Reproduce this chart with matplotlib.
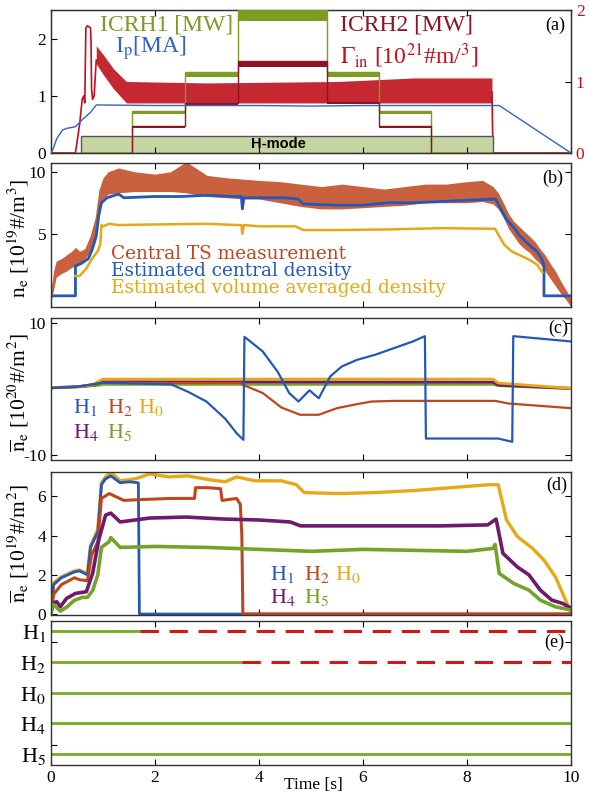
import matplotlib.pyplot as plt

plt.rcParams['font.family'] = ['Liberation Serif', 'DejaVu Serif']
plt.rcParams['mathtext.fontset'] = 'stix'
plt.rcParams['axes.unicode_minus'] = False

# ---------------- panel (a) ----------------
icrh_edges = [0, 1.56, 2.58, 3.59, 5.3, 6.3, 7.3, 10]
icrh1_lo = [0, 0.68, 1.33, 2.30, 1.33, 0.68, 0]
icrh1_hi = [0, 0.73, 1.41, 2.50, 1.41, 0.73, 0]
icrh2_lo = [0, 0.43, 0.82, 1.50, 0.85, 0.43, 0]
icrh2_hi = [0, 0.48, 0.88, 1.60, 0.90, 0.48, 0]

ip_t = [0, 0.04, 0.11, 0.22, 0.3, 0.47, 0.61, 0.76, 0.87, 0.95, 2.0, 4.0, 5.0, 6.0, 8.62, 10]
ip_v = [0, 0.07, 0.25, 0.40, 0.43, 0.46, 0.59, 0.71, 0.84, 0.84, 0.83, 0.83, 0.82, 0.83, 0.83, 0]

gam_t = [0, 0.47, 0.55, 0.6, 0.63, 0.65, 0.67, 0.7, 0.76, 0.77, 0.78, 0.8, 0.83, 0.87]
gam_v = [0, 0, 0.4, 0.75, 0.8, 0.7, 1.75, 1.78, 1.75, 1.55, 0.9, 0.75, 0.8, 1.3]
gamb_t = [0.87, 1.0, 1.2, 1.45, 3.0, 5.5, 7.0, 8.48]
gamb_lo = [1.25, 1.1, 0.9, 0.7, 0.7, 0.7, 0.7, 0.7]
gamb_hi = [1.5, 1.38, 1.18, 1.0, 0.98, 1.0, 1.05, 1.05]
gamend_t = [8.48, 8.5, 10]
gamend_v = [0.85, 0, 0]

hmode = (0.58, 8.5, 0.3)

# ---------------- panel (b) ----------------
ts_t = [0, 0.05, 0.1, 0.2, 0.3, 0.4, 0.47, 0.55, 0.65, 0.75, 0.85, 0.92, 1.0, 1.1, 1.3, 1.6, 2.0, 2.3,
        2.6, 3.0, 3.4, 3.7, 4.0, 4.4, 4.8, 5.2, 5.6, 6.0, 6.4, 6.8, 7.2, 7.6, 8.0, 8.3, 8.5, 8.6, 8.7,
        8.8, 8.9, 9.0, 9.1, 9.2, 9.3, 9.4, 9.5, 9.6, 9.7, 9.8, 9.9, 10.0]
ts_lo = [-0.5, 0.5, 1.5, 1.8, 2.0, 2.3, 2.4, 2.6, 3.0, 3.5, 4.5, 6.5, 7.8, 8.2, 8.3, 8.4, 8.4, 8.4,
         8.3, 8.0, 7.9, 7.8, 7.8, 7.5, 7.2, 7.0, 7.0, 7.1, 7.2, 7.3, 7.5, 7.5, 7.5, 7.6, 7.4, 7.0, 6.3,
         5.4, 4.8, 4.2, 3.8, 3.5, 3.0, 2.6, 2.0, 1.4, 0.8, 0.2, -0.3, -0.9]
ts_hi = [0.5, 2.0, 2.8, 3.0, 3.3, 3.6, 3.9, 3.6, 3.8, 4.8, 6.3, 8.5, 9.5, 10.0, 10.3, 10.0, 9.8, 10.0,
         10.8, 9.7, 9.5, 9.4, 9.3, 9.2, 9.0, 8.8, 9.0, 8.8, 8.6, 8.8, 9.0, 9.0, 9.2, 9.3, 8.8, 8.3, 7.5,
         6.6, 6.0, 5.6, 5.2, 4.8, 4.4, 3.8, 3.3, 2.6, 2.0, 1.2, 0.5, -0.2]

cd_t = [0, 0.47, 0.47, 0.58, 0.72, 0.79, 0.87, 0.92, 0.97, 1.08, 1.3, 1.4, 2.0, 2.5, 3.0, 3.5, 3.66,
        3.68, 3.71, 4.0, 4.5, 4.75, 4.85, 5.5, 6.0, 6.5, 7.0, 7.5, 8.0, 8.55, 8.65, 8.75, 8.9, 9.0,
        9.12, 9.25, 9.34, 9.42, 9.48, 9.48, 10]
cd_v = [0, 0, 2.4, 2.6, 3.0, 3.7, 4.8, 6.5, 7.5, 7.9, 8.2, 7.9, 8.0, 8.0, 8.1, 8.0, 8.0,
        7.0, 7.9, 7.9, 7.9, 7.8, 7.4, 7.3, 7.3, 7.5, 7.5, 7.6, 7.7, 7.8, 7.0, 6.2, 5.5, 4.9,
        4.4, 3.9, 3.6, 3.1, 2.5, 0, 0]

va_t = [0.47, 0.55, 0.68, 0.79, 0.9, 0.95, 0.97, 1.0, 1.12, 1.3, 2.0, 3.0, 3.6, 3.66, 3.68, 3.71,
        4.0, 4.7, 4.85, 5.5, 6.5, 7.5, 8.54, 8.62, 8.72, 8.85, 9.0, 9.2, 9.35, 9.45]
va_v = [1.6, 1.6, 2.2, 3.0, 3.6, 4.2, 5.7, 5.6, 5.8, 5.7, 5.75, 5.8, 5.7, 5.7, 5.0, 5.7,
        5.6, 5.6, 5.3, 5.3, 5.35, 5.45, 5.4, 4.8, 4.1, 3.6, 3.3, 2.9, 2.5, 1.9]

# ---------------- panel (c) ----------------
c_t = [0, 0.5, 0.8, 0.95, 1.0, 8.5, 8.6, 10]
h0_c = [0.2, 0.35, 0.6, 1.3, 1.5, 1.5, 0.9, 0.1]
h4_c = [0.2, 0.35, 0.55, 1.0, 1.1, 1.05, 0.6, 0.1]
h5_c = [0.15, 0.3, 0.5, 0.6, 0.7, 0.7, 0.5, 0.05]

h2c_t = [0, 0.5, 0.95, 1.0, 3.65, 3.7, 4.07, 4.43, 4.79, 5.15, 5.5, 5.88, 6.16, 6.6, 8.54, 8.8, 10]
h2c_v = [0.15, 0.35, 0.9, 0.95, 0.9, 0.6, -0.6, -2.8, -3.9, -3.9, -2.9, -2.3, -1.9, -1.8, -1.8, -2.2, -2.9]

h1c_t = [0, 0.5, 0.95, 1.0, 2.31, 2.63, 2.99, 3.35, 3.57, 3.7, 3.72, 4.07, 4.36, 4.58, 4.76, 4.97,
         5.15, 5.37, 5.59, 5.88, 6.24, 6.6, 6.96, 7.19, 7.21, 8.6, 8.87, 8.89, 10]
h1c_v = [0.15, 0.35, 0.9, 0.95, 0.7, -0.4, -1.9, -4.5, -6.7, -7.7, 7.9, 5.7, 2.6, -0.6, -1.9, -0.2,
         -1.4, 1.9, 3.4, 4.4, 5.2, 6.2, 7.2, 8.0, -7.5, -7.5, -8.0, 8.0, 7.2]

# ---------------- panel (d) ----------------
h0d_t = [0, 0.05, 0.2, 0.45, 0.55, 0.7, 0.76, 0.9, 0.97, 1.05, 1.15, 1.33, 1.62, 1.9, 2.27, 2.63, 3.06,
         3.35, 3.57, 3.93, 4.43, 4.72, 4.87, 5.52, 6.24, 6.96, 7.69, 8.41, 8.6, 8.76, 8.97, 9.26,
         9.48, 9.7, 9.84, 9.95, 10]
h0d_v = [0, 1.6, 1.9, 2.2, 2.25, 2.05, 3.5, 4.3, 6.7, 7.0, 7.25, 6.8, 6.9, 7.15, 7.0, 7.05, 6.85,
         6.75, 7.0, 6.8, 6.8, 6.6, 6.2, 6.15, 6.2, 6.3, 6.45, 6.6, 6.6, 4.8, 3.95, 3.35,
         2.75, 1.9, 1.05, 0.37, 0.1]

h1d_t = [0, 0.05, 0.2, 0.45, 0.55, 0.7, 0.76, 0.9, 0.97, 1.05, 1.15, 1.33, 1.5, 1.68, 1.7, 10]
h1d_v = [0, 1.5, 1.85, 2.15, 2.2, 2.0, 3.4, 4.2, 6.6, 6.9, 7.05, 6.7, 6.75, 6.7, 0, 0]

h2d_t = [0, 0.05, 0.2, 0.45, 0.55, 0.7, 0.78, 0.9, 0.97, 1.12, 1.4, 1.8, 2.3, 2.76, 2.78, 3.0, 3.26,
         3.29, 3.57, 3.64, 3.67, 3.69, 10]
h2d_v = [0, 1.0, 1.5, 1.85, 1.75, 1.7, 3.0, 3.7, 5.9, 6.15, 5.8, 5.85, 5.9, 5.9, 6.45, 6.45, 6.4,
         5.8, 5.9, 5.6, 4.0, 0, 0]

h4d_t = [0, 0.03, 0.11, 0.18, 0.3, 0.47, 0.68, 0.8, 0.92, 1.05, 1.15, 1.33, 1.9, 2.6, 3.3, 4.0, 4.6,
         4.8, 5.5, 6.5, 7.5, 8.4, 8.56, 8.69, 8.97, 9.19, 9.41, 9.63, 9.84, 10]
h4d_v = [0, 0.55, 0.63, 0.37, 0.8, 1.05, 1.14, 2.07, 3.8, 5.05, 5.15, 4.7, 4.9, 4.95, 4.85, 4.8, 4.7,
         4.5, 4.5, 4.5, 4.5, 4.55, 4.85, 3.1, 2.4, 2.0, 1.22, 0.71, 0.54, 0.3]

h5d_t = [0, 0.03, 0.1, 0.18, 0.3, 0.45, 0.6, 0.7, 0.8, 0.9, 0.97, 1.12, 1.15, 1.33, 2.0, 3.0, 4.0,
         5.0, 6.0, 7.0, 8.0, 8.5, 8.54, 8.62, 8.9, 9.19, 9.41, 9.7, 10]
h5d_v = [0, 0.5, 0.35, 0.15, 0.35, 0.7, 0.85, 0.85, 1.2, 2.0, 3.4, 3.7, 3.9, 3.4, 3.45, 3.4, 3.3,
         3.2, 3.3, 3.25, 3.2, 3.35, 3.55, 2.07, 1.56, 1.22, 0.71, 0.37, 0.2]

# ---------------- panel (e) ----------------
rows = ['H$_1$', 'H$_2$', 'H$_0$', 'H$_4$', 'H$_5$']
row_pos = [5, 4, 3, 2, 1]
lost_at = [1.72, 3.68, None, None, None]

# colours
BLUE = '#2458b8'
RED = '#c0451c'
YEL = '#e6a817'
PUR = '#6e1a6e'
GRN = '#75a22a'

fig = plt.figure(figsize=(5.89, 7.93), dpi=100)
L, W = 51 / 589, 520 / 589
H = 793.0
def box(top, bot):
    return [L, 1 - bot / H, W, (bot - top) / H]

axa = fig.add_axes(box(10, 153))
axb = fig.add_axes(box(163, 307))
axc = fig.add_axes(box(318, 460))
axd = fig.add_axes(box(472, 615))
axe = fig.add_axes(box(621, 765))
axr = axa.twinx()

for ax in [axa, axb, axc, axd, axe]:
    ax.set_xlim(0, 10)
    ax.set_xticks([0, 2, 4, 6, 8, 10])
    ax.tick_params(direction='in', length=4, width=0.8, top=True, right=True, labelsize=12.5)
    for s in ax.spines.values():
        s.set_linewidth(1.0)
        s.set_color('#333333')
    if ax is not axe:
        ax.set_xticklabels([])

# (a)
axa.set_zorder(axr.get_zorder() + 1)
axa.patch.set_visible(False)
axa.set_ylim(0, 2.5)
axa.set_yticks([0, 1, 2])
axa.tick_params(right=False)
axr.set_ylim(0, 2)
axr.set_yticks([0, 1, 2])
axr.tick_params(direction='in', length=4, width=0.8, labelsize=12.5, labelcolor='#c0101c')

axa.fill_between([hmode[0], hmode[1]], 0, hmode[2], color='#c6d4a2', ec='#555555', lw=1, zorder=1)
axa.text(4.37, hmode[2] / 2, 'H-mode', family='Liberation Sans',
         weight='bold', fontsize=10.5, ha='center', va='center', zorder=2)
axa.stairs(icrh1_hi, icrh_edges, baseline=icrh1_lo, fill=True, color='#7c9c22', zorder=3)
axa.stairs(icrh1_hi, icrh_edges, color='#7c9c22', lw=1, zorder=3)
axa.stairs(icrh2_hi, icrh_edges, baseline=icrh2_lo, fill=True, color='#8b1526', zorder=3)
axa.stairs(icrh2_hi, icrh_edges, color='#8b1526', lw=1, zorder=3)
axa.plot(ip_t, ip_v, color='#3463c2', lw=1, zorder=4)

axr.plot(gam_t, gam_v, color='#c0101c', lw=1.2)
axr.fill_between(gamb_t, gamb_lo, gamb_hi, color='#c0101c', lw=0, alpha=0.9)
axr.plot(gamend_t, gamend_v, color='#c0101c', lw=1.2)

axa.text(0.94, 2.23, 'ICRH1 [MW]', color='#7c9c22', fontsize=17, va='center', zorder=5)
axa.text(1.23, 1.84, 'I$_\\mathrm{p}$[MA]', color='#3463c2', fontsize=17, va='center', zorder=5)
axa.text(5.55, 2.23, 'ICRH2 [MW]', color='#8b1526', fontsize=17, va='center', zorder=5)
axa.text(5.55, 1.7, '$\\Gamma_\\mathrm{in}$ [10$^{21}$#m/$^{3}$]', color='#c0101c', fontsize=17,
         va='center', zorder=5)
axa.text(0.97, 0.89, '(a)', transform=axa.transAxes, fontsize=13, ha='center', va='center')

# (b)
axb.set_ylim(-0.9, 10.7)
axb.set_yticks([5, 10])
axb.fill_between(ts_t, ts_lo, ts_hi, color=RED, lw=0, alpha=0.85)
axb.plot(cd_t, cd_v, color=BLUE, lw=2)
axb.plot(va_t, va_v, color=YEL, lw=1.8)
leg_font = dict(family='DejaVu Serif', fontsize=13.3, va='center')
axb.text(1.15, 3.34, 'Central TS measurement', color=RED, **leg_font)
axb.text(1.15, 2.0, 'Estimated central density', color=BLUE, **leg_font)
axb.text(1.15, 0.65, 'Estimated volume averaged density', color=YEL, **leg_font)
axb.text(0.965, 0.896, '(b)', transform=axb.transAxes, fontsize=13, ha='center', va='center')

# (c)
axc.set_ylim(-10.75, 10.75)
axc.set_yticks([-10, 10])
axc.plot(c_t, h5_c, color=GRN, lw=2)
axc.plot(c_t, h4_c, color=PUR, lw=2)
axc.plot(c_t, h0_c, color=YEL, lw=2)
axc.plot(h2c_t, h2c_v, color=RED, lw=1.6)
axc.plot(h1c_t, h1c_v, color=BLUE, lw=1.6)
for txt, x, y, c in [('H$_1$', 0.43, -3.6, BLUE), ('H$_2$', 1.08, -3.6, RED), ('H$_0$', 1.68, -3.6, YEL),
                     ('H$_4$', 0.43, -7.4, PUR), ('H$_5$', 1.08, -7.4, GRN)]:
    axc.text(x, y, txt, color=c, fontsize=16, va='baseline')
axc.text(0.975, 0.93, '(c)', transform=axc.transAxes, fontsize=13, ha='center', va='center')

# (d)
axd.set_ylim(-0.05, 7.25)
axd.set_yticks([0, 2, 4, 6])
axd.plot(h0d_t, h0d_v, color=YEL, lw=2.4)
axd.plot(h1d_t, h1d_v, color=BLUE, lw=2)
axd.plot(h2d_t, h2d_v, color=RED, lw=2.2)
axd.plot(h4d_t, h4d_v, color=PUR, lw=2.6)
axd.plot(h5d_t, h5d_v, color=GRN, lw=2.6)
for txt, x, y, c in [('H$_1$', 4.22, 1.73, BLUE), ('H$_2$', 4.87, 1.73, RED), ('H$_0$', 5.47, 1.73, YEL),
                     ('H$_4$', 4.22, 0.56, PUR), ('H$_5$', 4.87, 0.56, GRN)]:
    axd.text(x, y, txt, color=c, fontsize=16, va='baseline')
axd.text(0.972, 0.91, '(d)', transform=axd.transAxes, fontsize=13, ha='center', va='center')

# (e)
axe.set_ylim(0.64, 5.33)
axe.set_yticks(row_pos)
axe.set_yticklabels(rows, fontsize=16)
axe.tick_params(axis='y', length=0)
axe.set_yticks([1.3, 4.65], minor=True)
axe.tick_params(axis='y', which='minor', direction='in', length=4, width=0.8, left=True, right=True)
for y, tl in zip(row_pos, lost_at):
    end = 10 if tl is None else tl
    axe.plot([0, end], [y, y], color='#77aa22', lw=2)
    if tl is not None:
        axe.plot([tl, 10], [y, y], color='#d01818', lw=2.2, dashes=(6, 3.5))
axe.text(0.968, 0.854, '(e)', transform=axe.transAxes, fontsize=13, ha='center', va='center')

# y labels
ylab_x = 18 / 589
fig.text(ylab_x, 1 - 238 / H, 'n$_\\mathrm{e}$ [10$^{19}$#/m$^{3}$]', rotation=90, fontsize=15.5,
         ha='center', va='center')
fig.text(ylab_x, 1 - 392 / H, '$\\overline{\\mathrm{n}}_\\mathrm{e}$ [10$^{20}$#/m$^{2}$]', rotation=90,
         fontsize=15.5, ha='center', va='center')
fig.text(ylab_x, 1 - 543 / H, '$\\overline{\\mathrm{n}}_\\mathrm{e}$ [10$^{19}$#/m$^{2}$]', rotation=90,
         fontsize=15.5, ha='center', va='center')
fig.text(313 / 589, 1 - 785 / H, 'Time [s]', fontsize=12.5, ha='center', va='center')

fig.savefig('out.png', dpi=100)
